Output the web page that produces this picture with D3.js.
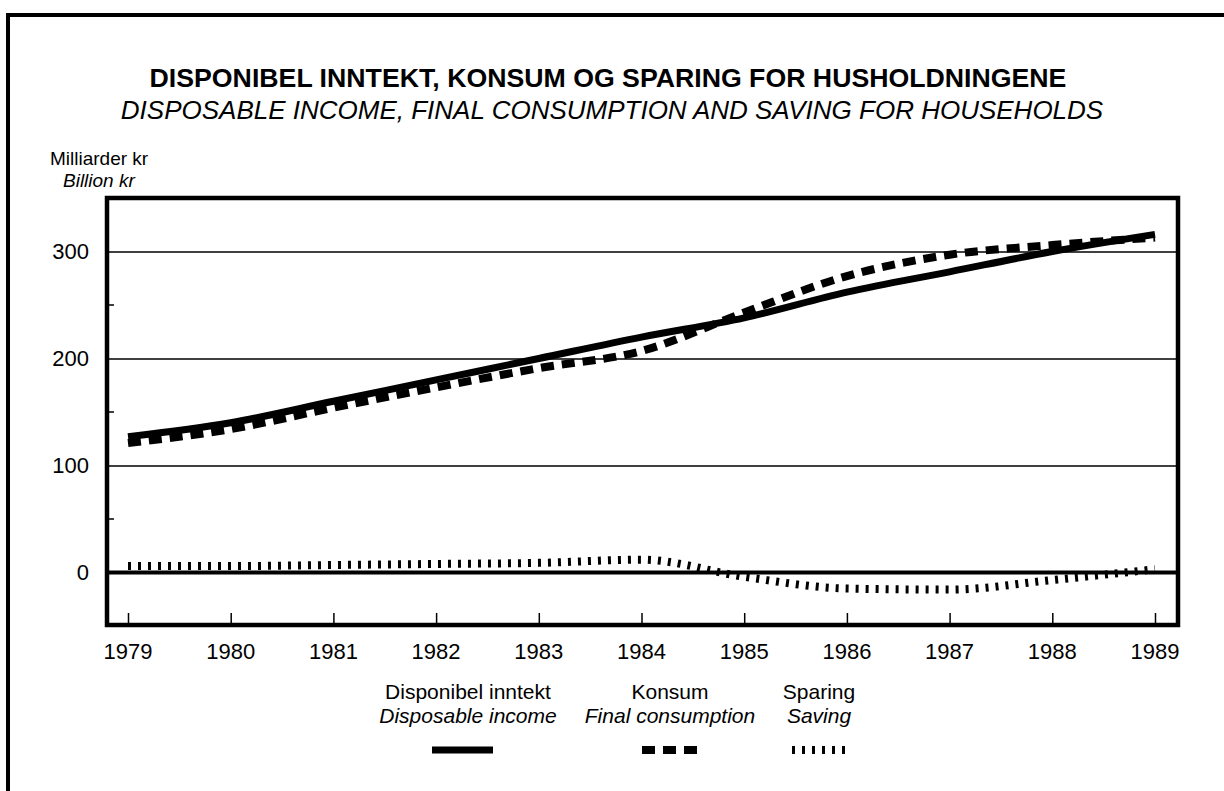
<!DOCTYPE html>
<html>
<head>
<meta charset="utf-8">
<script src="https://cdn.jsdelivr.net/npm/d3@7"></script>
<style>
  body { margin: 0; background: #fff; }
  svg { font-family: "Liberation Sans", Arial, Helvetica, sans-serif; }
  .grid line { stroke: #000; stroke-width: 1.5; }
</style>
</head>
<body>
<div class="chart"></div>
<script>
// data (billion kr)
var years = [1979, 1980, 1981, 1982, 1983, 1984, 1985, 1986, 1987, 1988, 1989];
var income = [127, 140, 160, 180, 200, 220, 238, 262, 281, 300, 316];
var consumption = [121, 134, 154, 173, 191, 207, 243, 277, 297, 306, 313];
var saving = [6, 6, 7, 8, 9, 12, -4, -15, -16, -7, 3];
var yTicks = [0, 100, 200, 300];
var yMinor = [50, 150, 250];

var width = 1224, height = 791;

// plot frame in pixels
var plotL = 107, plotR = 1178, plotT = 198, plotB = 625;

var svg = d3.select(".chart").append("svg")
    .attr("width", width)
    .attr("height", height);

// outer frame (top and left edge only)
svg.append("path")
    .attr("d", "M8,791 L8,15 L1224,15")
    .attr("fill", "none")
    .attr("stroke", "#000")
    .attr("stroke-width", 4);

// titles
svg.append("text")
    .attr("x", 608)
    .attr("y", 87)
    .attr("text-anchor", "middle")
    .attr("font-weight", "bold")
    .attr("font-size", "26.7px")
    .text("DISPONIBEL INNTEKT, KONSUM OG SPARING FOR HUSHOLDNINGENE");
svg.append("text")
    .attr("x", 612)
    .attr("y", 119)
    .attr("text-anchor", "middle")
    .attr("font-style", "italic")
    .attr("font-size", "26px")
    .text("DISPOSABLE INCOME, FINAL CONSUMPTION AND SAVING FOR HOUSEHOLDS");

svg.append("text")
    .attr("x", 50)
    .attr("y", 165)
    .attr("font-size", "19px")
    .text("Milliarder kr");
svg.append("text")
    .attr("x", 63)
    .attr("y", 187)
    .attr("font-size", "19px")
    .attr("font-style", "italic")
    .text("Billion kr");

// scales
var x = d3.scaleLinear()
    .domain([1979, 1989])
    .range([128, 1155]);
var y = d3.scaleLinear()
    .domain([0, 300])
    .range([572.5, 251.5]);

var g = svg.append("g");

// gridlines
g.append("g")
    .attr("class", "grid")
    .attr("transform", "translate(" + plotL + ",0)")
    .call(d3.axisRight(y)
        .tickValues([100, 200, 300])
        .tickSize(plotR - plotL)
        .tickFormat(""))
    .call(function (s) { s.select(".domain").remove(); });

// minor y ticks
g.selectAll(".minor")
    .data(yMinor)
    .enter().append("line")
    .attr("x1", plotL)
    .attr("x2", plotL + 7)
    .attr("y1", function (d) { return y(d); })
    .attr("y2", function (d) { return y(d); })
    .attr("stroke", "#000")
    .attr("stroke-width", 1.5);

// y labels
var yAxis = g.append("g")
    .attr("transform", "translate(" + plotL + ",0)")
    .call(d3.axisLeft(y).tickValues(yTicks).tickSize(0).tickPadding(18));
yAxis.select(".domain").remove();
yAxis.selectAll("text")
    .attr("font-size", "22px")
    .attr("font-family", "Liberation Sans, Arial, sans-serif")
    .attr("fill", "#000");

// x axis: ticks rising from bottom border
var xAxis = g.append("g")
    .attr("transform", "translate(0," + plotB + ")")
    .call(d3.axisTop(x).tickValues(years).tickFormat(d3.format("d")).tickSize(12));
xAxis.select(".domain").remove();
xAxis.selectAll("line").attr("stroke-width", 1.5);
xAxis.selectAll("text").remove();
g.selectAll(".xlabel")
    .data(years)
    .enter().append("text")
    .attr("class", "xlabel")
    .attr("x", function (d) { return x(d); })
    .attr("y", plotB + 34)
    .attr("text-anchor", "middle")
    .attr("font-size", "22px")
    .text(function (d) { return d; });

// zero line
g.append("line")
    .attr("x1", plotL)
    .attr("x2", plotR)
    .attr("y1", y(0))
    .attr("y2", y(0))
    .attr("stroke", "#000")
    .attr("stroke-width", 4);

// series lines
var line = d3.line()
    .x(function (d, i) { return x(years[i]); })
    .y(function (d) { return y(d); })
    .curve(d3.curveMonotoneX);

g.append("path")
    .datum(income)
    .attr("d", line)
    .attr("fill", "none")
    .attr("stroke", "#000")
    .attr("stroke-width", 7);

g.append("path")
    .datum(consumption)
    .attr("d", line)
    .attr("fill", "none")
    .attr("stroke", "#000")
    .attr("stroke-width", 8)
    .attr("stroke-dasharray", "13,8");

g.append("path")
    .datum(saving)
    .attr("d", line)
    .attr("fill", "none")
    .attr("stroke", "#000")
    .attr("stroke-width", 8)
    .attr("stroke-dasharray", "3,7");

// plot border
g.append("rect")
    .attr("x", plotL)
    .attr("y", plotT)
    .attr("width", plotR - plotL)
    .attr("height", plotB - plotT)
    .attr("fill", "none")
    .attr("stroke", "#000")
    .attr("stroke-width", 4.5);

// legend
var legend = [
    {no: "Disponibel inntekt", en: "Disposable income", cx: 468, x1: 432, x2: 493, dash: null, w: 7},
    {no: "Konsum", en: "Final consumption", cx: 670, x1: 642, x2: 703, dash: "13,8", w: 8},
    {no: "Sparing", en: "Saving", cx: 819, x1: 792, x2: 850, dash: "3,7", w: 8}
];
var lg = svg.append("g");
legend.forEach(function (d) {
    lg.append("text")
        .attr("x", d.cx)
        .attr("y", 699)
        .attr("text-anchor", "middle")
        .attr("font-size", "21px")
        .text(d.no);
    lg.append("text")
        .attr("x", d.cx)
        .attr("y", 723)
        .attr("text-anchor", "middle")
        .attr("font-size", "21px")
        .attr("font-style", "italic")
        .text(d.en);
    lg.append("line")
        .attr("x1", d.x1)
        .attr("x2", d.x2)
        .attr("y1", 750)
        .attr("y2", 750)
        .attr("stroke", "#000")
        .attr("stroke-width", d.w)
        .attr("stroke-dasharray", d.dash);
});
</script>
</body>
</html>
